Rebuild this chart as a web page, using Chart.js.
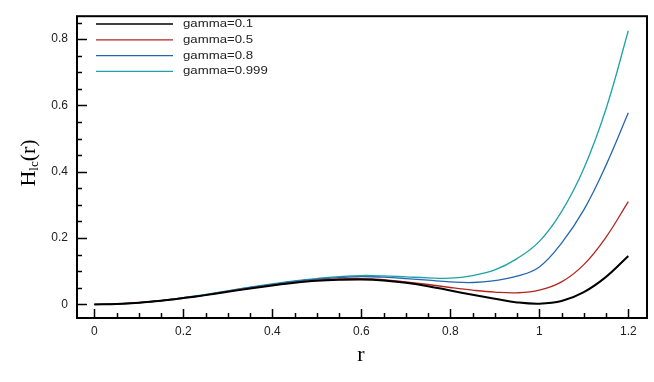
<!DOCTYPE html>
<html>
<head>
<meta charset="utf-8">
<script src="https://cdn.jsdelivr.net/npm/chart.js@4"></script>
<style>
  html, body { margin: 0; padding: 0; background: #fff; }
  #wrap { width: 654px; height: 382px; }
</style>
</head>
<body>
<div id="wrap"><canvas id="myChart"></canvas></div>
<script>
var rValues = [0, 0.05, 0.1, 0.15, 0.2, 0.25, 0.3, 0.35, 0.4, 0.45, 0.5, 0.55, 0.6,
               0.65, 0.7, 0.75, 0.8, 0.85, 0.9, 0.95, 1.0, 1.05, 1.1, 1.15, 1.2];

var gamma01 = [0, 0.0012, 0.005, 0.011, 0.019, 0.028, 0.038, 0.048, 0.057, 0.065, 0.071, 0.074, 0.075,
               0.072, 0.065, 0.055, 0.042, 0.029, 0.017, 0.006, 0.002, 0.01, 0.037, 0.083, 0.146];
var gamma05 = [0, 0.0012, 0.005, 0.011, 0.019, 0.028, 0.039, 0.049, 0.058, 0.066, 0.073, 0.077, 0.078,
               0.075, 0.068, 0.060, 0.051, 0.043, 0.037, 0.035, 0.043, 0.068, 0.12, 0.203, 0.31];
var gamma08 = [0, 0.0013, 0.0052, 0.0115, 0.02, 0.029, 0.040, 0.051, 0.060, 0.069, 0.076, 0.081, 0.084,
               0.082, 0.078, 0.073, 0.068, 0.066, 0.072, 0.085, 0.113, 0.185, 0.285, 0.42, 0.578];
var gamma0999 = [0, 0.0013, 0.0053, 0.0118, 0.0205, 0.030, 0.041, 0.052, 0.062, 0.071, 0.078, 0.084, 0.087,
                 0.086, 0.083, 0.080, 0.079, 0.087, 0.104, 0.138, 0.19, 0.28, 0.41, 0.59, 0.825];

var seriesLabels = ["gamma=0.1", "gamma=0.5", "gamma=0.8", "gamma=0.999"];
var seriesColors = ["#000000", "#b3261e", "#2467b0", "#1ca3a6"];
var seriesWidths = [2, 1.3, 1.3, 1.3];

var xTicks = [0, 0.2, 0.4, 0.6, 0.8, 1, 1.2];
var yTicks = [0, 0.2, 0.4, 0.6, 0.8];
var minorStep = 0.05;

function points(vals) {
  return rValues.map(function (r, i) { return { x: r, y: vals[i] }; });
}

var allSeries = [gamma01, gamma05, gamma08, gamma0999];
var datasets = allSeries.map(function (vals, i) {
  return {
    label: seriesLabels[i],
    data: points(vals),
    borderColor: seriesColors[i],
    borderWidth: seriesWidths[i],
    pointRadius: 0,
    fill: false,
    tension: 0.4
  };
});

// frame, inward ticks, legend and axis titles
var decorations = {
  id: 'decorations',
  afterDraw: function (chart) {
    var c = chart.ctx, a = chart.chartArea;
    var xs = chart.scales.x, ys = chart.scales.y;
    c.save();
    c.strokeStyle = '#000';
    c.lineWidth = 1.5;
    var v, px, major;
    for (v = 0; v <= 1.2001; v += minorStep) {
      major = Math.abs(v / 0.2 - Math.round(v / 0.2)) < 1e-6;
      px = Math.round(xs.getPixelForValue(v)) + 0.5;
      c.beginPath();
      c.moveTo(px, a.bottom);
      c.lineTo(px, a.bottom - (major ? 9 : 5));
      c.stroke();
    }
    for (v = 0; v <= 0.8501; v += minorStep) {
      major = Math.abs(v / 0.2 - Math.round(v / 0.2)) < 1e-6;
      px = Math.round(ys.getPixelForValue(v)) + 0.5;
      c.beginPath();
      c.moveTo(a.left, px);
      c.lineTo(a.left + (major ? 10 : 5), px);
      c.stroke();
    }
    c.lineWidth = 2;
    c.strokeRect(a.left, a.top, a.right - a.left, a.bottom - a.top);

    // legend
    c.font = '11px "Liberation Sans", Arial, sans-serif';
    c.textBaseline = 'middle';
    c.fillStyle = '#222';
    for (var i = 0; i < seriesLabels.length; i++) {
      var ly = 24 + i * 15.8;
      c.strokeStyle = seriesColors[i];
      c.lineWidth = i === 0 ? 1.5 : 1.2;
      c.beginPath();
      c.moveTo(96, ly);
      c.lineTo(173, ly);
      c.stroke();
      c.save();
      c.translate(183, ly);
      c.scale(1.2, 1);
      c.fillText(seriesLabels[i], 0, 0);
      c.restore();
    }

    // x title
    c.fillStyle = '#000';
    c.textAlign = 'center';
    c.textBaseline = 'middle';
    c.font = '22px "Liberation Serif", "Times New Roman", serif';
    c.fillText('r', 361, 355);

    // y title: H with subscript lc, then (r)
    c.translate(27, 163);
    c.rotate(-Math.PI / 2);
    c.textAlign = 'left';
    c.textBaseline = 'alphabetic';
    var big = '22px "Liberation Serif", "Times New Roman", serif';
    var small = '13px "Liberation Serif", "Times New Roman", serif';
    c.font = big;
    var wH = c.measureText('H').width;
    var wP = c.measureText('(r)').width;
    c.font = small;
    var wS = c.measureText('lc').width;
    var x0 = -(wH + wS + wP) / 2;
    c.font = big;
    c.fillText('H', x0, 8);
    c.font = small;
    c.fillText('lc', x0 + wH, 11);
    c.font = big;
    c.fillText('(r)', x0 + wH + wS, 8);
    c.restore();
  }
};

var ctx = document.getElementById('myChart');
var chart = new Chart(ctx, {
  type: 'line',
  data: { datasets: datasets },
  options: {
    responsive: true,
    maintainAspectRatio: false,
    animation: false,
    layout: { padding: { left: 0, right: 7, top: 7, bottom: 0 } },
    plugins: {
      legend: { display: false },
      tooltip: { enabled: false }
    },
    scales: {
      x: {
        type: 'linear',
        min: -0.039,
        max: 1.242,
        border: { display: false },
        grid: { display: false, drawTicks: false },
        afterBuildTicks: function (s) { s.ticks = xTicks.map(function (v) { return { value: v }; }); },
        afterFit: function (s) { s.height = 64; },
        ticks: {
          padding: 6,
          color: '#222',
          font: { family: '"Liberation Sans", Arial, sans-serif', size: 12 },
          callback: function (v) { return String(v); }
        }
      },
      y: {
        type: 'linear',
        min: -0.041,
        max: 0.869,
        border: { display: false },
        grid: { display: false, drawTicks: false },
        afterBuildTicks: function (s) { s.ticks = yTicks.map(function (v) { return { value: v }; }); },
        afterFit: function (s) { s.width = 77; },
        ticks: {
          padding: 9,
          color: '#222',
          font: { family: '"Liberation Sans", Arial, sans-serif', size: 12 },
          callback: function (v) { return String(v); }
        }
      }
    }
  },
  plugins: [decorations]
});
</script>
</body>
</html>
